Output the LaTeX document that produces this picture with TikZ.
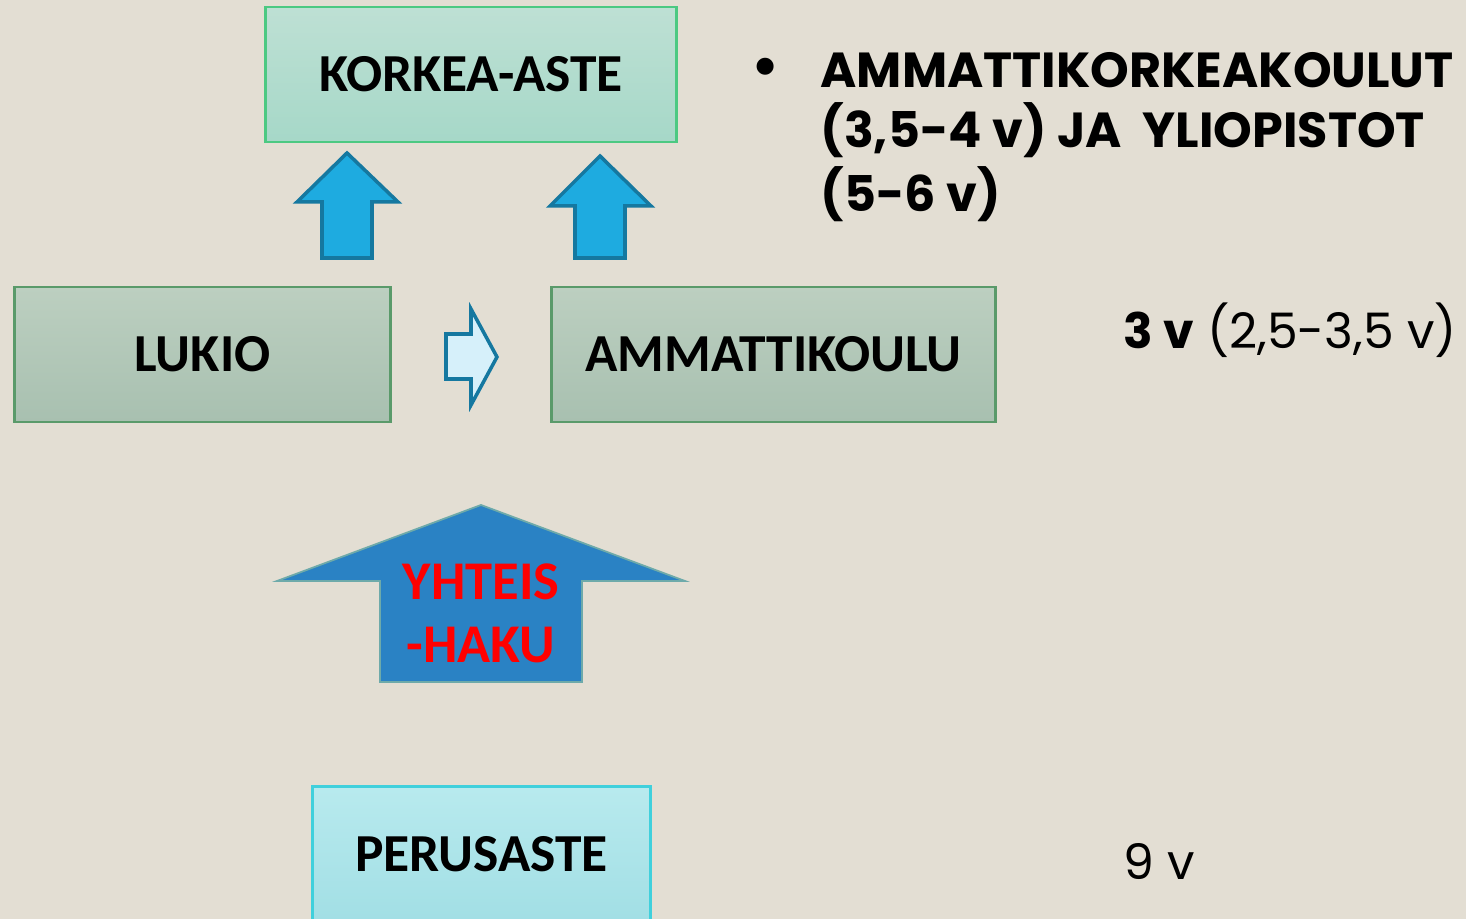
\documentclass[tikz,border=0pt]{standalone}
\usepackage{fontspec}
\setmainfont{Carlito}
\newfontfamily\gothic{Poppins}
\definecolor{bg}{HTML}{E3DED3}
\definecolor{blockblue}{HTML}{1EABE0}
\definecolor{blockedge}{HTML}{1578A0}
\definecolor{bigblue}{HTML}{2A82C4}
\tikzset{
  level/.style={draw,line width=0.8pt,font=\fontsize{15.2}{18}\selectfont\bfseries,inner sep=0pt},
  upblock/.style={fill=blockblue,draw=blockedge,line width=1pt,line join=miter},
  years/.style={anchor=base west,inner sep=0pt,font=\gothic\fontsize{13.9}{18}\selectfont},
  amkline/.style={anchor=base west,inner sep=0pt,font=\gothic\fontsize{14}{18}\selectfont\bfseries},
  hakutext/.style={red,anchor=base,font=\fontsize{15.5}{18}\selectfont\bfseries}
}
\begin{document}
\begin{tikzpicture}[x=0.01cm,y=-0.01cm]
\useasboundingbox (0,0) rectangle (1466,919);
\fill[bg] (0,0) rectangle (1466,919);
% koulutusasteet
\node[level,draw=green!40!teal!70,top color={rgb,255:red,190;green,224;blue,212},bottom color={rgb,255:red,166;green,216;blue,200},minimum width=4.10cm,minimum height=1.35cm] (korkea) at (471,74.5) {KORKEA-ASTE};
\node[level,draw={rgb,255:red,90;green,154;blue,106},top color={rgb,255:red,188;green,207;blue,192},bottom color={rgb,255:red,168;green,192;blue,176},minimum width=3.75cm,minimum height=1.35cm] (lukio) at (202.5,354.5) {LUKIO};
\node[level,draw={rgb,255:red,90;green,154;blue,106},top color={rgb,255:red,188;green,207;blue,192},bottom color={rgb,255:red,168;green,192;blue,176},minimum width=4.43cm,minimum height=1.35cm] (amkoulu) at (773.5,354.5) {AMMATTIKOULU};
\node[level,draw={rgb,255:red,64;green,208;blue,220},top color={rgb,255:red,184;green,234;blue,238},bottom color={rgb,255:red,160;green,222;blue,228},minimum width=3.37cm,minimum height=1.45cm,anchor=north] (perus) at (481.5,785) {};
\node[font=\fontsize{15.2}{18}\selectfont\bfseries] (perusteksti) at (481.5,854) {PERUSASTE};
% nuolet
\draw[upblock] (322,258)--(322,202)--(297,202)--(347,153)--(398,202)--(372,202)--(372,258)--cycle;
\draw[upblock] (575,258)--(575,206)--(550,206)--(600,156)--(651,206)--(625,206)--(625,258)--cycle;
\draw[fill={rgb,255:red,214;green,240;blue,250},draw=blockedge,line width=1pt] (446,334)--(471,334)--(471,309)--(497,357)--(471,405)--(471,379)--(446,379)--cycle;
\draw[fill=bigblue,draw={rgb,255:red,110;green,170;blue,170},line width=0.5pt] (380,682)--(380,581)--(277,581)--(481,505)--(685,581)--(582,581)--(582,682)--cycle;
\node[hakutext] (haku1) at (481,600) {YHTEIS};
\node[hakutext] (haku2) at (481,663) {-HAKU};
% oikea laita
\node[anchor=base,font=\gothic\fontsize{16}{18}\selectfont\bfseries] (bullet) at (766,86) {•};
\node[amkline] (amk1) at (820,88) {AMMATTIKORKEAKOULUT};
\node[amkline] (amk2) at (820,148) {(3,5-4 v) JA\ \ YLIOPISTOT};
\node[amkline] (amk3) at (820,212) {(5-6 v)};
\node[years] (kolme) at (1123,349) {\textbf{3 v} (2,5-3,5 v)};
\node[years] (yhdeksan) at (1123,880) {9 v};
\end{tikzpicture}
\end{document}
